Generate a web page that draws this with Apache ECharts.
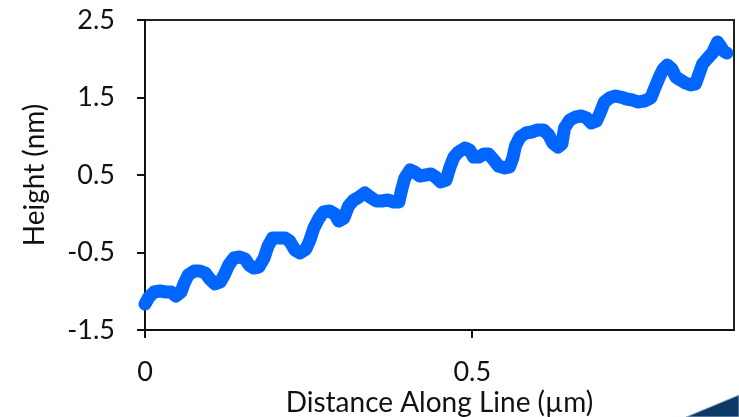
<!DOCTYPE html>
<html>
<head>
<meta charset="utf-8">
<script src="https://cdn.jsdelivr.net/npm/echarts@6/dist/echarts.min.js"></script>
<style>
  html, body { margin: 0; padding: 0; background: #fff; }
  #chart { width: 739px; height: 417px; }
</style>
</head>
<body>
<div id="chart"></div>
<script>
// Height profile sampled along the scan line
const distance = [
  0, 0.006, 0.014, 0.023, 0.032, 0.040, 0.047, 0.055, 0.060, 0.066,
  0.075, 0.084, 0.092, 0.099, 0.107, 0.115, 0.121, 0.128, 0.136, 0.145,
  0.153, 0.159, 0.166, 0.174, 0.182, 0.188, 0.195, 0.205, 0.214, 0.221,
  0.229, 0.237, 0.246, 0.252, 0.258, 0.266, 0.273, 0.282, 0.290, 0.296,
  0.304, 0.311, 0.319, 0.327, 0.336, 0.344, 0.353, 0.362, 0.371, 0.380,
  0.388, 0.392, 0.397, 0.405, 0.412, 0.420, 0.429, 0.437, 0.444, 0.452,
  0.460, 0.466, 0.472, 0.479, 0.489, 0.496, 0.502, 0.510, 0.518, 0.525,
  0.533, 0.540, 0.550, 0.557, 0.562, 0.566, 0.573, 0.582, 0.591, 0.600,
  0.609, 0.617, 0.623, 0.631, 0.637, 0.641, 0.649, 0.658, 0.667, 0.675,
  0.682, 0.690, 0.696, 0.702, 0.710, 0.718, 0.727, 0.736, 0.745, 0.753,
  0.763, 0.773, 0.779, 0.786, 0.792, 0.798, 0.805, 0.811, 0.818, 0.826,
  0.834, 0.841, 0.846, 0.852, 0.860, 0.867, 0.872, 0.875, 0.879, 0.884,
  0.889
];
const height = [
  -1.165, -1.074, -1.010, -0.997, -1.010, -1.010, -1.061, -1.010, -0.894, -0.790,
  -0.739, -0.739, -0.765, -0.842, -0.906, -0.881, -0.790, -0.661, -0.571, -0.558,
  -0.584, -0.661, -0.700, -0.687, -0.571, -0.416, -0.313, -0.313, -0.313, -0.352,
  -0.468, -0.506, -0.455, -0.339, -0.184, -0.055, 0.023, 0.035, -0.003, -0.094,
  -0.055, 0.100, 0.177, 0.216, 0.268, 0.216, 0.165, 0.165, 0.177, 0.152,
  0.152, 0.306, 0.461, 0.565, 0.539, 0.487, 0.500, 0.513, 0.474, 0.410,
  0.435, 0.603, 0.732, 0.797, 0.848, 0.823, 0.732, 0.732, 0.771, 0.771,
  0.694, 0.616, 0.590, 0.603, 0.719, 0.874, 0.990, 1.042, 1.055, 1.081,
  1.081, 1.016, 0.913, 0.861, 0.900, 1.106, 1.210, 1.248, 1.261, 1.235,
  1.171, 1.197, 1.313, 1.442, 1.494, 1.519, 1.506, 1.481, 1.468, 1.442,
  1.455, 1.494, 1.623, 1.765, 1.868, 1.919, 1.868, 1.765, 1.726, 1.687,
  1.661, 1.674, 1.790, 1.932, 2.010, 2.074, 2.165, 2.216, 2.165, 2.100,
  2.074
];
const xTicks = [0, 0.5];
const yTicks = [-1.5, -0.5, 0.5, 1.5, 2.5];

const FONT = 'Lato';
const points = distance.map((d, i) => [d, height[i]]);

const chart = echarts.init(document.getElementById('chart'), null, { renderer: 'canvas' });
chart.setOption({
  animation: false,
  backgroundColor: '#ffffff',
  grid: {
    left: 145, top: 20, right: 5, bottom: 87,
    outerBoundsMode: 'none',
    show: true, borderColor: '#222', borderWidth: 2, backgroundColor: 'transparent'
  },
  xAxis: {
    type: 'value',
    min: 0, max: 0.9, interval: 0.5,
    name: 'Distance Along Line (µm)',
    nameLocation: 'middle',
    nameGap: 59,
    nameMoveOverlap: false,
    nameTextStyle: { fontFamily: FONT, fontSize: 28, color: '#111' },
    axisLine: { show: true, onZero: false, lineStyle: { color: '#111', width: 2 } },
    axisTick: { show: true, length: 8, lineStyle: { color: '#111', width: 2 } },
    axisLabel: {
      margin: 29, fontFamily: FONT, fontSize: 27, color: '#111',
      formatter: v => (xTicks.includes(v) ? String(v) : ''),
      showMaxLabel: false
    },
    splitLine: { show: false }
  },
  yAxis: {
    type: 'value',
    min: -1.5, max: 2.5, interval: 1,
    name: 'Height (nm)',
    nameLocation: 'middle',
    nameGap: 96,
    nameMoveOverlap: false,
    nameTextStyle: { fontFamily: FONT, fontSize: 28, color: '#111' },
    axisLine: { show: true, onZero: false, lineStyle: { color: '#111', width: 2 } },
    axisTick: { show: true, length: 8, lineStyle: { color: '#111', width: 2 } },
    axisLabel: {
      margin: 30, fontFamily: FONT, fontSize: 27, color: '#111',
      formatter: v => (yTicks.includes(v) ? String(v) : '')
    },
    splitLine: { show: false }
  },
  series: [{
    type: 'line',
    data: points,
    showSymbol: false,
    smooth: false,
    lineStyle: { color: '#0066ff', width: 13, cap: 'round', join: 'round' },
    clip: false
  }],
  graphic: [{
    type: 'polygon',
    silent: true,
    shape: { points: [[686, 417], [739, 395], [739, 417]] },
    style: { fill: '#0b3a66', stroke: '#9fb3c8', lineWidth: 1 }
  }]
});
</script>
</body>
</html>
